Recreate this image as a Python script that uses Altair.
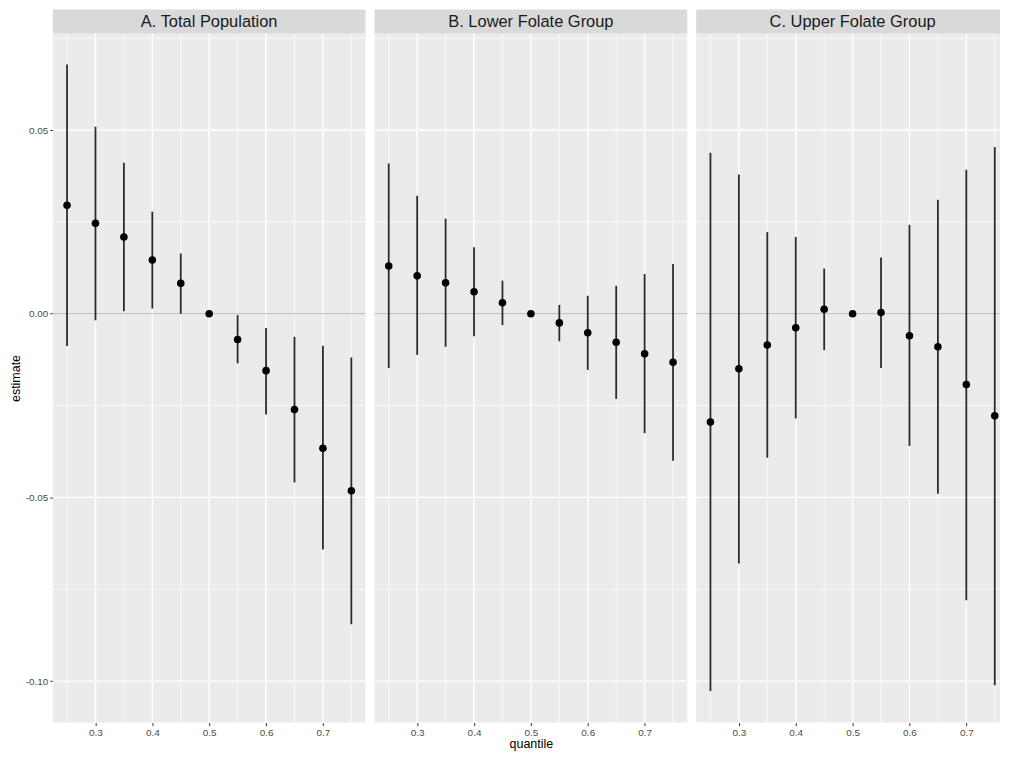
import altair as alt
import pandas as pd

FONT = "Liberation Sans"

quantiles = [0.25, 0.30, 0.35, 0.40, 0.45, 0.50, 0.55, 0.60, 0.65, 0.70, 0.75]

a_est = [0.0295, 0.0246, 0.0209, 0.0146, 0.0083, 0.0, -0.0070, -0.0155, -0.0261, -0.0366, -0.0482]
a_lo = [-0.0088, -0.0018, 0.0007, 0.0014, 0.0000, 0.0, -0.0135, -0.0274, -0.0459, -0.0642, -0.0845]
a_hi = [0.0678, 0.0509, 0.0411, 0.0278, 0.0164, 0.0, -0.0004, -0.0039, -0.0063, -0.0087, -0.0119]

b_est = [0.0130, 0.0103, 0.0084, 0.0060, 0.0030, 0.0, -0.0025, -0.0052, -0.0078, -0.0109, -0.0132]
b_lo = [-0.0148, -0.0112, -0.0090, -0.0061, -0.0031, 0.0, -0.0075, -0.0153, -0.0232, -0.0325, -0.0400]
b_hi = [0.0409, 0.0321, 0.0259, 0.0181, 0.0090, 0.0, 0.0024, 0.0049, 0.0076, 0.0108, 0.0135]

c_est = [-0.0295, -0.0150, -0.0085, -0.0038, 0.0012, 0.0, 0.0003, -0.0060, -0.0090, -0.0193, -0.0278]
c_lo = [-0.1027, -0.0680, -0.0392, -0.0285, -0.0099, 0.0, -0.0148, -0.0360, -0.0490, -0.0780, -0.1011]
c_hi = [0.0438, 0.0379, 0.0222, 0.0209, 0.0123, 0.0, 0.0153, 0.0242, 0.0310, 0.0392, 0.0454]

panel_titles = ["A. Total Population", "B. Lower Folate Group", "C. Upper Folate Group"]

x_major = [0.3, 0.4, 0.5, 0.6, 0.7]
x_minor = [0.25, 0.35, 0.45, 0.55, 0.65, 0.75]
y_major = [-0.10, -0.05, 0.0, 0.05]
y_minor = [-0.075, -0.025, 0.025, 0.075]

X_MIN, X_MAX = 0.225, 0.775
Y_MIN, Y_MAX = -0.1113, 0.0763
PANEL_W = 314
PLOT_H = 692
STRIP_H = 24


def panel(title, est, lo, hi, width, x_max, show_y, x_title):
    df = pd.DataFrame({"quantile": quantiles, "estimate": est, "lo": lo, "hi": hi})
    xs = alt.Scale(domain=[X_MIN, x_max], nice=False, zero=False)
    ys = alt.Scale(domain=[Y_MIN, Y_MAX], nice=False, zero=False)
    xa_kwargs = dict(values=x_major, format=".1f", grid=False, domain=False,
                     tickSize=3, tickColor="#333333", tickWidth=1,
                     labelColor="#4D4D4D", labelFontSize=10, labelPadding=2, labelFont=FONT,
                     titleFont=FONT, titleFontSize=12.5, titleColor="black",
                     titleFontWeight="normal", titlePadding=0, minExtent=0)
    if x_title:
        x_axis = alt.Axis(title=x_title, **xa_kwargs)
    else:
        x_axis = alt.Axis(title=None, **xa_kwargs)
    if show_y:
        y_axis = alt.Axis(values=y_major, format=".2f", grid=False, domain=False,
                          labelExpr="replace(datum.label, '\u2212', '-')",
                          tickSize=3, tickColor="#333333", tickWidth=1,
                          labelColor="#4D4D4D", labelFontSize=10, labelPadding=2, labelFont=FONT,
                          title="estimate", titleFont=FONT, titleFontSize=12.5,
                          titleColor="black", titleFontWeight="normal", titlePadding=2.7,
                          minExtent=0)
    else:
        y_axis = None

    def X(field):
        return alt.X(field, type="quantitative", scale=xs, axis=x_axis)

    def Y(field):
        if y_axis is None:
            return alt.Y(field, type="quantitative", scale=ys, axis=None)
        return alt.Y(field, type="quantitative", scale=ys, axis=y_axis)

    xmin_df = pd.DataFrame({"quantile": [v for v in x_minor if v <= x_max]})
    xmaj_df = pd.DataFrame({"quantile": x_major})
    ymin_df = pd.DataFrame({"estimate": y_minor})
    ymaj_df = pd.DataFrame({"estimate": y_major})

    gx_min = alt.Chart(xmin_df).mark_rule(color="white", strokeWidth=0.7).encode(x=X("quantile"))
    gx_maj = alt.Chart(xmaj_df).mark_rule(color="white", strokeWidth=1.4).encode(x=X("quantile"))
    gy_min = alt.Chart(ymin_df).mark_rule(color="white", strokeWidth=0.7).encode(y=Y("estimate"))
    gy_maj = alt.Chart(ymaj_df).mark_rule(color="white", strokeWidth=1.4).encode(y=Y("estimate"))
    zero = alt.Chart(pd.DataFrame({"estimate": [0.0]})).mark_rule(
        color="#B3B3B3", strokeWidth=1).encode(y=Y("estimate"))

    bars = alt.Chart(df).mark_rule(color="#2B2B2B", strokeWidth=1.8).encode(
        x=X("quantile"), y=Y("lo"), y2="hi")
    pts = alt.Chart(df).mark_circle(size=58, color="black", opacity=1).encode(
        x=X("quantile"), y=Y("estimate"))

    tdf = pd.DataFrame({"t": [title]})
    strip = alt.Chart(tdf).mark_rect(color="#D9D9D9").encode(
        x=alt.value(0), x2=alt.value(width), y=alt.value(-STRIP_H), y2=alt.value(0))
    strip_text = alt.Chart(tdf).mark_text(
        font=FONT, fontSize=16.5, color="#1A1A1A", baseline="middle", align="center").encode(
        text="t:N", x=alt.value(PANEL_W / 2), y=alt.value(-STRIP_H / 2 + 0.5))

    return alt.layer(gx_min, gx_maj, gy_min, gy_maj, zero, bars, pts, strip, strip_text).properties(
        width=width, height=PLOT_H)


c_width = 305
c_xmax = X_MIN + (X_MAX - X_MIN) * c_width / PANEL_W

pA = panel(panel_titles[0], a_est, a_lo, a_hi, PANEL_W, X_MAX, True, None)
pB = panel(panel_titles[1], b_est, b_lo, b_hi, PANEL_W, X_MAX, False, "quantile")
pC = panel(panel_titles[2], c_est, c_lo, c_hi, c_width, c_xmax, False, None)

chart = alt.hconcat(pA, pB, pC, spacing=7).properties(
    padding={"left": 1, "top": 0, "right": 0, "bottom": 0}
).configure(background="white").configure_view(fill="#EBEBEB", stroke=None)

chart.save("out.html", embed_options={"renderer": "svg", "actions": False})
